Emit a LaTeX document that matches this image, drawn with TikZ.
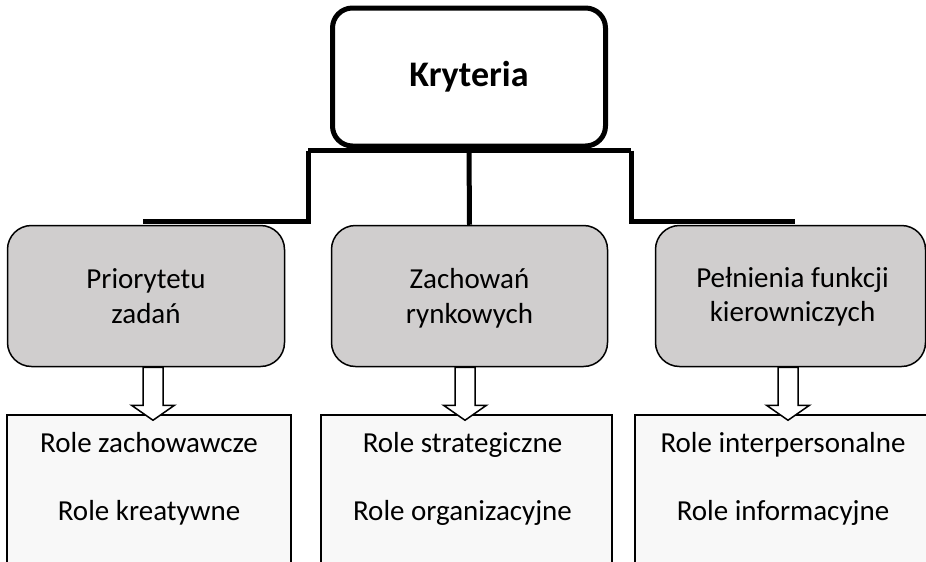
\documentclass[tikz,border=0pt]{standalone}
\usepackage{fontspec}
\setmainfont{Carlito}
\definecolor{greyfill}{HTML}{D0CECE}
\definecolor{paperfill}{HTML}{F8F8F8}
\begin{document}
\begin{tikzpicture}[x=1pt,y=-1pt,
  topbox/.style={draw=black, line width=5pt, rounded corners=20pt, fill=white,
    minimum width=273pt, minimum height=138pt, inner sep=0pt,
    font=\fontsize{36}{43}\selectfont\bfseries},
  catbox/.style={draw=black, line width=1.5pt, rounded corners=24pt, fill=greyfill,
    minimum height=141pt, inner sep=0pt},
  cattext/.style={anchor=base, inner sep=0pt, font=\fontsize{29}{35}\selectfont},
  rolebox/.style={draw=black, line width=1.6pt, fill=paperfill, anchor=north,
    minimum height=200pt, inner sep=0pt},
  roletext/.style={anchor=base, inner sep=0pt, font=\fontsize{29}{35}\selectfont},
  conn/.style={draw=black, line width=5pt},
  blockarr/.pic={\draw[black, line width=1.5pt, fill=white, line join=miter]
     (-10,0) -- (-10,38) -- (-21.5,38) -- (0,53) -- (21.5,38) -- (10,38) -- (10,0) -- cycle;}
]
\useasboundingbox (0,0) rectangle (926,562);
\clip (0,0) rectangle (926,562);

% bottom role boxes
\node[rolebox, minimum width=284pt] (b1) at (149,414) {};
\node[rolebox, minimum width=291pt] (b2) at (466.5,414) {};
\node[rolebox, minimum width=296pt] (b3) at (783,414) {};

% connectors
\coordinate (jl) at (308,150.5);
\coordinate (jr) at (631,150.5);
\coordinate (el) at (143,221.5);
\coordinate (er) at (795,221.5);
\draw[conn] (jl) -- (jr);
\draw[conn] (jl) -- (jl |- el) -- (el);
\draw[conn] (jr) -- (jr |- er) -- (er);

% top box
\node[topbox] (top) at (469,77) {Kryteria};

% category boxes
\node[catbox, minimum width=277pt] (g1) at (146,296) {};
\node[catbox, minimum width=276pt] (g2) at (469.5,296) {};
\node[catbox, minimum width=270pt] (g3) at (790.5,296) {};

\node[cattext] (t11) at ([yshift=8pt]g1.center) {Priorytetu};
\node[cattext] (t12) at ([yshift=-27pt]g1.center) {zadań};
\node[cattext] (t21) at ([yshift=8pt]g2.center) {Zachowań};
\node[cattext] (t22) at ([yshift=-27pt]g2.center) {rynkowych};
\node[cattext] (t31) at ([xshift=2pt,yshift=9pt]g3.center) {Pełnienia funkcji};
\node[cattext] (t32) at ([xshift=2pt,yshift=-25pt]g3.center) {kierowniczych};

\draw[conn] (top.south) -- (g2.north);

% arrows
\pic at ([xshift=7pt]g1.south) {blockarr};
\pic at ([xshift=-4.5pt]g2.south) {blockarr};
\pic at ([xshift=-2.5pt]g3.south) {blockarr};

% role texts
\node[roletext] (r11) at ([yshift=-38pt]b1.north) {Role zachowawcze};
\node[roletext] (r12) at ([yshift=-106pt]b1.north) {Role kreatywne};
\node[roletext] (r21) at ([xshift=-4pt,yshift=-38pt]b2.north) {Role strategiczne};
\node[roletext] (r22) at ([xshift=-4pt,yshift=-106pt]b2.north) {Role organizacyjne};
\node[roletext] (r31) at ([yshift=-38pt]b3.north) {Role interpersonalne};
\node[roletext] (r32) at ([yshift=-106pt]b3.north) {Role informacyjne};
\end{tikzpicture}
\end{document}
